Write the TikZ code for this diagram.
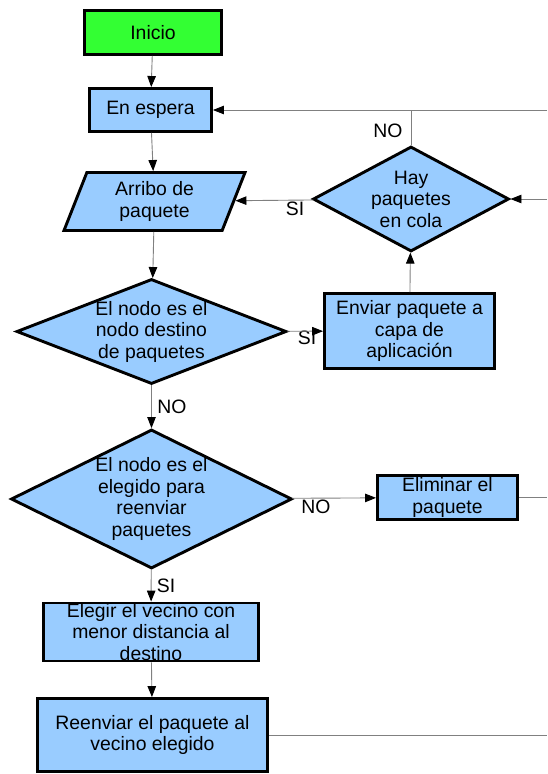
\documentclass[tikz,border=0pt]{standalone}
\usepackage{fontspec}
\setmainfont{Liberation Sans}
\usepackage{tikz}
\usetikzlibrary{shapes,arrows,arrows.meta,positioning}
\definecolor{procblue}{RGB}{153,204,255}
\definecolor{startgreen}{RGB}{51,255,51}
\definecolor{linkgray}{RGB}{128,128,128}
\newcommand{\chartfont}{\fontsize{19.4}{21.5}\selectfont}
\tikzstyle{startbox} = [rectangle, draw, line width=2.9pt, fill=startgreen, inner sep=0pt, font=\chartfont]
\tikzstyle{procbox} = [rectangle, draw, line width=2.9pt, fill=procblue, align=center, inner sep=0pt, font=\chartfont]
\tikzstyle{iobox} = [trapezium, trapezium left angle=60, trapezium right angle=120, trapezium stretches body, draw, line width=2.9pt, fill=procblue, align=center, inner sep=0pt, font=\chartfont]
\tikzstyle{decision} = [diamond, draw, line width=2.9pt, fill=procblue, inner sep=0pt]
\tikzstyle{tag} = [font=\chartfont, inner sep=0pt]
\tikzstyle{line} = [draw, linkgray, line width=0.9pt]
\tikzstyle{arrowline} = [line, -{Triangle[length=11pt,width=8.5pt,color=black]}]

\begin{document}
\begin{tikzpicture}[x=1pt, y=-1pt, every label/.style={font=\chartfont, align=center, inner sep=0pt}]
	\useasboundingbox (0,0) rectangle (547,774);

	\node [startbox, minimum width=137pt, minimum height=44pt] (inicio) at (153,32.5) {Inicio};
	\node [procbox, minimum width=122pt, minimum height=43pt] (espera) at (150.5,110) {En espera};
	\node [iobox, minimum width=181pt, minimum height=58pt] (arribo) at (154.5,201.5) {Arribo de\\paquete};
	\node [decision, minimum width=270pt, minimum height=105pt, label=center:{El nodo es el\\nodo destino\\de paquetes}] (destino) at (151.5,331.5) {};
	\node [procbox, minimum width=170pt, minimum height=75pt] (enviar) at (409.5,331) {Enviar paquete a\\capa de\\aplicación};
	\node [decision, minimum width=196pt, minimum height=105pt, label=center:{Hay\\paquetes\\en cola}] (cola) at (411,199) {};
	\node [decision, minimum width=281pt, minimum height=139pt, label=center:{El nodo es el\\elegido para\\reenviar\\paquetes}] (elegido) at (151.5,499) {};
	\node [procbox, minimum width=140pt, minimum height=44pt] (eliminar) at (447.5,497.5) {Eliminar el\\paquete};
	\node [procbox, minimum width=215pt, minimum height=58pt] (vecino) at (151,632) {Elegir el vecino con\\menor distancia al\\destino};
	\node [procbox, minimum width=230pt, minimum height=73pt] (reenviar) at (152.5,735) {Reenviar el paquete al\\vecino elegido};

	% loose ends running off to the right
	\coordinate (rtop) at (547,110);
	\coordinate (ntop) at (411,110);
	\coordinate (rcola) at (547,199);
	\coordinate (relim) at (547,497.5);
	\coordinate (rreenv) at (547,735);

	\node [tag] (no1) at (388,131) {NO};
	\node [tag] (si1) at (295,209) {SI};
	\node [tag] (si2) at (307,338) {SI};
	\node [tag] (no2) at (172,407) {NO};
	\node [tag] (no3) at (316,507) {NO};
	\node [tag] (si3) at (166,586) {SI};

	\path [arrowline] (inicio) -- (espera);
	\path [arrowline] (espera) -- (arribo);
	\path [arrowline] (arribo) -- (destino);
	\path [arrowline] (destino) -- (enviar);
	\path [arrowline] (enviar) -- (cola);
	\path [arrowline] (cola) -- (arribo);
	\path [line] (cola) -- (ntop);
	\path [arrowline] (rtop) -- (espera);
	\path [arrowline] (rcola) -- (cola);
	\path [arrowline] (destino) -- (elegido);
	\path [arrowline] (elegido) -- (eliminar);
	\path [line] (eliminar) -- (relim);
	\path [arrowline] (elegido) -- (vecino);
	\path [arrowline] (vecino) -- (reenviar);
	\path [line] (reenviar) -- (rreenv);
\end{tikzpicture}
\end{document}
